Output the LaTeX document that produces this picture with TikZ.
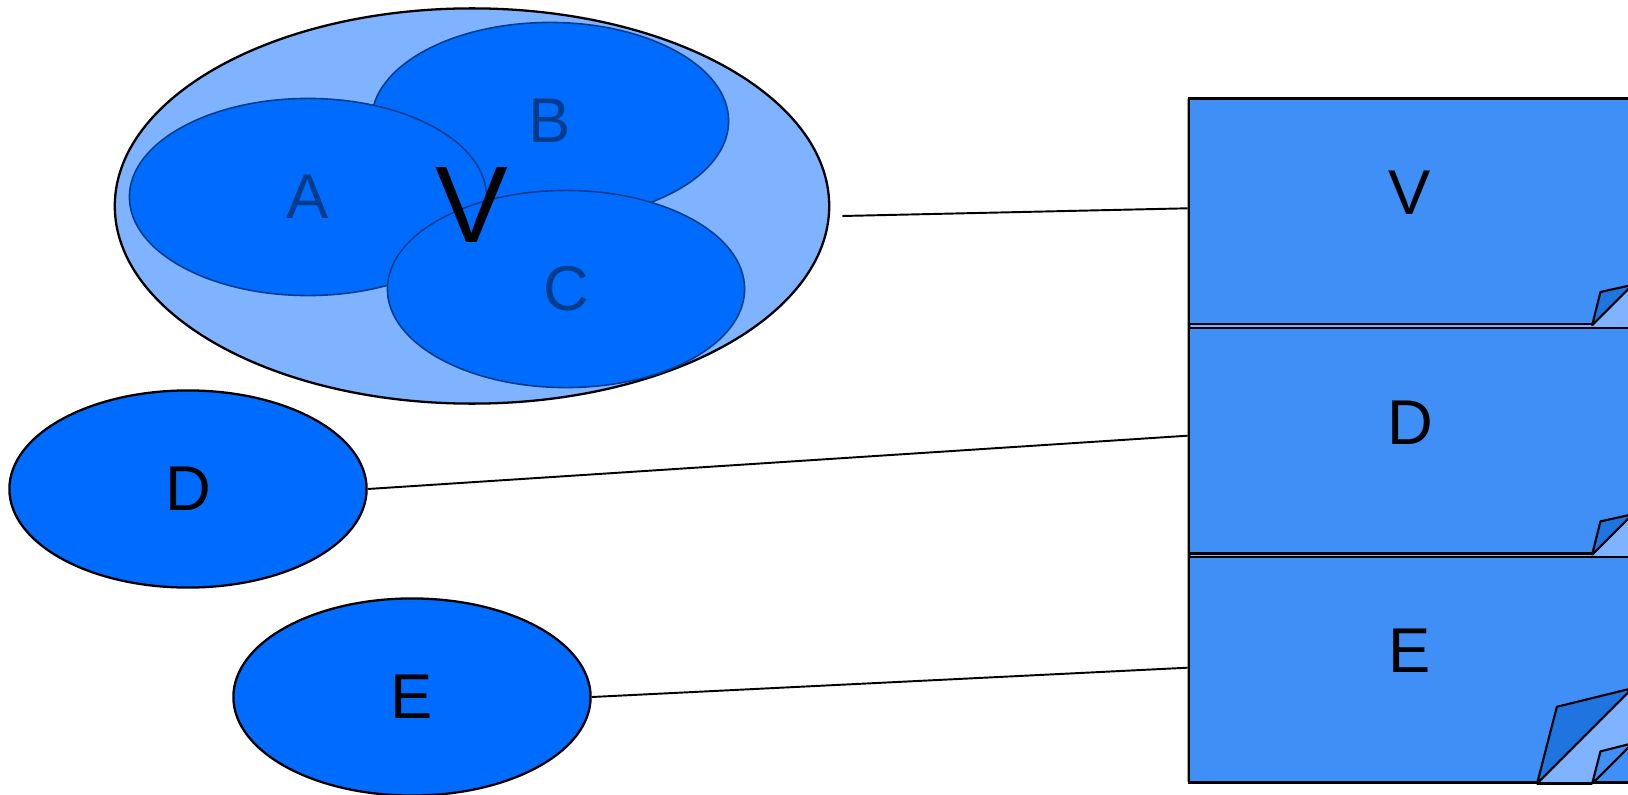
\documentclass[tikz,border=0pt]{standalone}
\usepackage{fontspec}
\setmainfont{Liberation Sans}
\usetikzlibrary{calc,shapes.geometric}
\definecolor{setblue}{HTML}{006CFF}
\definecolor{paleblue}{HTML}{80B3FF}
\definecolor{pageblue}{HTML}{3F8FF7}
\definecolor{flapblue}{HTML}{1F74E0}
\definecolor{inkblue}{HTML}{003C8C}
\tikzset{
	subset/.style={ellipse, fill=setblue, draw=inkblue, line width=0.45pt, minimum width=3.57cm, minimum height=1.97cm, inner sep=0pt, font=\fontsize{18}{18}\selectfont, text=inkblue},
	single/.style={subset, draw=black, line width=0.65pt, text=black},
	page/.style={rectangle, fill=pageblue, draw=black, line width=0.75pt, minimum width=4.42cm, minimum height=2.25cm, inner sep=0pt},
	flap/.style={fill=flapblue, draw=black, line width=0.6pt, line join=round},
	tag/.style={inner sep=0pt, font=\fontsize{18}{18}\selectfont},
	link/.style={draw=black, line width=0.55pt},
}

\begin{document}
\begin{tikzpicture}[x=0.01cm, y=-0.01cm]
			%%%%% START %%%%%
			\useasboundingbox (0, 0) rectangle (1628, 794);
			\clip (0, 0) rectangle (1628, 794);
			
			% the set V and its parts
			\node[ellipse, fill=paleblue, draw=black, line width=0.65pt, minimum width=7.14cm, minimum height=3.95cm, inner sep=0pt] (V) at (472, 206) {};
			\node[subset] (B) at (550, 121) {B};
			\node[subset] (A) at (308, 197) {A};
			\node[subset] (C) at (566, 289) {C};
			\node[inner sep=0pt, font=\fontsize{31}{31}\selectfont] (Vtag) at (472, 205) {V};
			
			\node[single] (D) at (188, 489) {D};
			\node[single] (E) at (412, 697) {E};
			
			% stack of pages behind
			\filldraw[fill=paleblue, draw=black, line width=0.75pt, line join=round] (1189, 98.6) -- (1640, 98.6) -- (1640, 741.5) -- (1590.7, 781.8) -- (1189, 781.8) -- cycle;
			
			\node[page] (pV) at (1410, 211.3) {};
			\fill[paleblue] ($(pV.south east)+(-40.3, -0.6)$) -- ($(pV.south east)+(0, -40.3)$) -- ($(pV.south east)+(8, -40.3)$) -- ($(pV.south east)+(8, 3.3)$) -- ($(pV.south east)+(-40.3, 3.3)$) -- cycle;
			\draw[flap] ($(pV.south east)+(-40.3, 0)$) -- ($(pV.south east)+(-32, -33.2)$) -- ($(pV.south east)+(0, -40.3)$) -- cycle;
			\node[tag] (Vlabel) at ($(pV.center)+(0, -19)$) {V};
			
			\node[page] (pD) at (1410, 440.7) {};
			\fill[paleblue] ($(pD.south east)+(-40.3, -0.6)$) -- ($(pD.south east)+(0, -40.3)$) -- ($(pD.south east)+(8, -40.3)$) -- ($(pD.south east)+(8, 3.3)$) -- ($(pD.south east)+(-40.3, 3.3)$) -- cycle;
			\draw[flap] ($(pD.south east)+(-40.3, 0)$) -- ($(pD.south east)+(-32, -33.2)$) -- ($(pD.south east)+(0, -40.3)$) -- cycle;
			\node[tag] (Dlabel) at ($(pD.center)+(0, -18)$) {D};
			
			\node[page] (pE) at (1410, 669.7) {};
			\fill[paleblue] ($(pE.south east)+(-95.4, -0.6)$) -- ($(pE.south east)+(0, -95.4)$) -- ($(pE.south east)+(0, -40.3)$) -- ($(pE.south east)+(-40.3, 0)$) -- cycle;
			\draw[black, line width=0.75pt] ($(pE.south east)+(-95.4, 0)$) -- ($(pE.south east)+(-40.3, 0)$);
			\draw[flap, fill=pageblue] ($(pE.south east)+(-40.3, 0)$) -- ($(pE.south east)+(-32, -32.2)$) -- ($(pE.south east)+(0, -40.3)$) -- cycle;
			\draw[flap] ($(pE.south east)+(-95.4, 0)$) -- ($(pE.south east)+(-75.6, -76.8)$) -- ($(pE.south east)+(0, -95.4)$) -- cycle;
			\node[tag] (Elabel) at ($(pE.center)+(0, -19)$) {E};
			
			% links
			\draw[link] ($(V.east)+(12, 10)$) -- ($(pV.west)+(0, -3)$);
			\draw[link] (D.east) -- ($(pD.west)+(0, -5)$);
			\draw[link] (E.east) -- ($(pE.west)+(0, -2)$);
			
			%%%%% END %%%%%
\end{tikzpicture}
\end{document}
